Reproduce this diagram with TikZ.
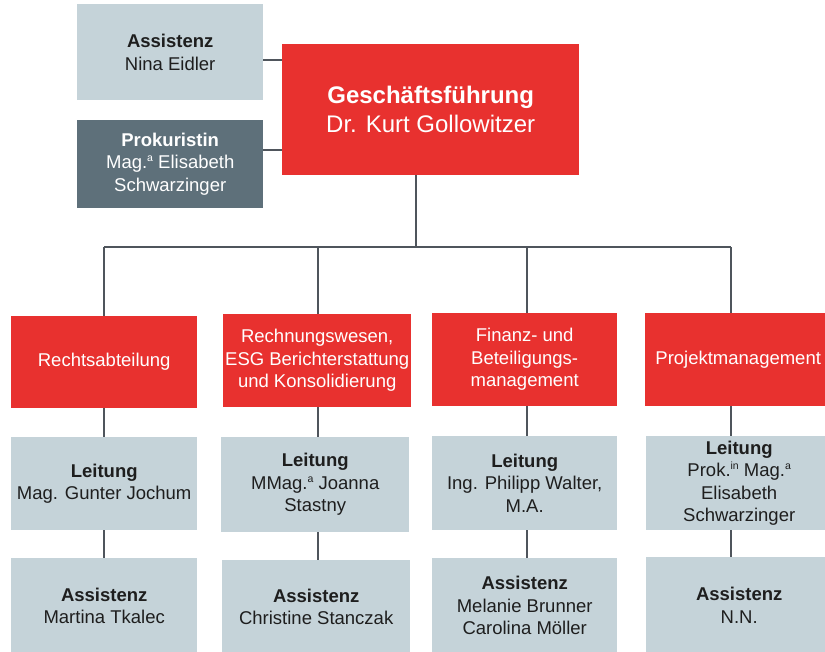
\documentclass[tikz,border=0pt]{standalone}
\usepackage{fontspec}
\setmainfont{Liberation Sans}
\definecolor{orgred}{HTML}{E8312F}
\definecolor{orglight}{HTML}{C5D3D9}
\definecolor{orgdark}{HTML}{5E707A}
\definecolor{orgline}{HTML}{4F555C}
\definecolor{orgtext}{HTML}{1E1E1E}
\newcommand{\supsm}[1]{\raisebox{0.38em}{\fontsize{10.5}{11}\selectfont #1}}
\begin{document}
\begin{tikzpicture}[x=1pt,y=-1pt,
  box/.style={rectangle, inner sep=0pt, anchor=north west, align=center,
    font=\fontsize{18.5}{22.5}\selectfont},
  redbox/.style={box, fill=orgred, text=white},
  lightbox/.style={box, fill=orglight, text=orgtext},
  darkbox/.style={box, fill=orgdark, text=white},
  conn/.style={draw=orgline, line width=1.1pt}]
\path[use as bounding box, clip] (0,0) rectangle (825,651);
\fill[white] (0,0) rectangle (825,651);

% top
\node[lightbox, minimum width=186pt, minimum height=96pt] (ass) at (77,4)
  {\textbf{Assistenz}\\Nina Eidler};
\node[darkbox, minimum width=186pt, minimum height=88pt] (prok) at (77,120)
  {\textbf{Prokuristin}\\Mag.\supsm{a} Elisabeth\\Schwarzinger};
\node[redbox, minimum width=297pt, minimum height=131pt,
  font=\fontsize{24}{29}\selectfont] (gf) at (282,44)
  {\textbf{Geschäftsführung}\\Dr. Kurt Gollowitzer};

% departments
\node[redbox, minimum width=186pt, minimum height=92pt] (r1) at (11,316)
  {Rechtsabteilung};
\node[redbox, minimum width=188pt, minimum height=93pt] (r2) at (223,314)
  {Rechnungswesen,\\ESG Berichterstattung\\und Konsolidierung};
\node[redbox, minimum width=185pt, minimum height=93pt] (r3) at (432,313)
  {Finanz- und\\Beteiligungs-\\management};
\node[redbox, minimum width=186pt, minimum height=93pt] (r4) at (645,313)
  {Projektmanagement};

% Leitung
\node[lightbox, minimum width=186pt, minimum height=93pt] (l1) at (11,437)
  {\textbf{Leitung}\\Mag. Gunter Jochum};
\node[lightbox, minimum width=188pt, minimum height=95pt] (l2) at (221,437)
  {\textbf{Leitung}\\MMag.\supsm{a} Joanna\\Stastny};
\node[lightbox, minimum width=185pt, minimum height=94pt] (l3) at (432,436)
  {\textbf{Leitung}\\Ing. Philipp Walter,\\M.A.};
\node[lightbox, minimum width=186pt, minimum height=94pt] (l4) at (646,436)
  {\textbf{Leitung}\\Prok.\supsm{in} Mag.\supsm{a}\\Elisabeth\\Schwarzinger};

% Assistenz
\node[lightbox, minimum width=186pt, minimum height=95pt] (a1) at (11,558)
  {\textbf{Assistenz}\\Martina Tkalec};
\node[lightbox, minimum width=188pt, minimum height=93pt] (a2) at (222,560)
  {\textbf{Assistenz}\\Christine Stanczak};
\node[lightbox, minimum width=185pt, minimum height=95pt] (a3) at (432,558)
  {\textbf{Assistenz}\\Melanie Brunner\\Carolina Möller};
\node[lightbox, minimum width=186pt, minimum height=96pt] (a4) at (646,557)
  {\textbf{Assistenz}\\N.N.};

% connectors
\coordinate (b0) at (416,247);
\coordinate (c1) at (104,247);
\coordinate (c2) at (318,247);
\coordinate (c3) at (527,247);
\coordinate (c4) at (731,247);
\draw[conn] (ass.east |- 0,60) -- (gf.west |- 0,60);
\draw[conn] (prok.east |- 0,150) -- (gf.west |- 0,150);
\draw[conn] (gf.south -| b0) -- (b0);
\draw[conn] (c1) -- (c4);
\foreach \i in {1,2,3,4}{
  \draw[conn] (c\i) -- (c\i |- r\i.north);
  \draw[conn] (c\i |- r\i.south) -- (c\i |- l\i.north);
  \draw[conn] (c\i |- l\i.south) -- (c\i |- a\i.north);
}
\end{tikzpicture}
\end{document}
